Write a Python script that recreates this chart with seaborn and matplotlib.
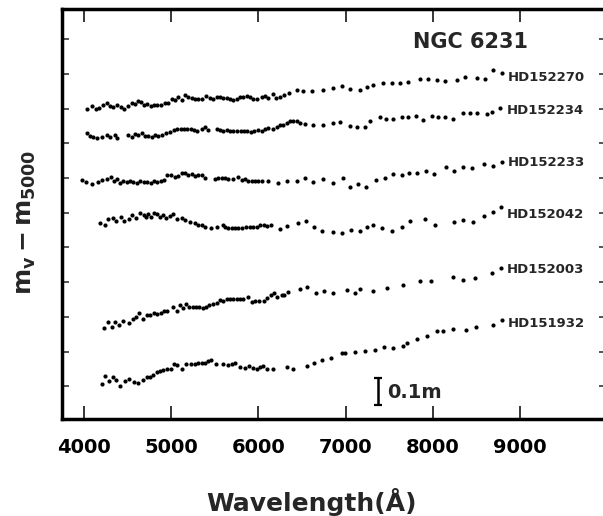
import numpy as np
import pandas as pd
import matplotlib
matplotlib.use("Agg")
import matplotlib.pyplot as plt
import seaborn as sns

# ---------------- data ----------------
stars = ["HD152270", "HD152234", "HD152233", "HD152042", "HD152003", "HD151932"]

wl_152270 = [4040, 4096, 4138, 4176, 4214, 4260, 4299, 4337, 4383, 4421,
             4463, 4509, 4547, 4585, 4623, 4654, 4688, 4727, 4765, 4803,
             4841, 4880, 4929, 4968, 5006, 5044, 5082, 5120, 5159, 5197,
             5235, 5273, 5312, 5350, 5400, 5445, 5484, 5522, 5560, 5598,
             5637, 5675, 5713, 5751, 5790, 5828, 5866, 5904, 5942, 5988,
             6038, 6076, 6115, 6172, 6202, 6248, 6294, 6348, 6439, 6516,
             6612, 6745, 6860, 6956, 7051, 7166, 7243, 7319, 7434, 7529,
             7625, 7720, 7854, 7950, 8045, 8141, 8275, 8370, 8504, 8600,
             8695, 8791]
mag_152270 = [1.125, 1.136, 1.125, 1.129, 1.137, 1.147, 1.135, 1.132, 1.137, 1.130,
              1.125, 1.135, 1.144, 1.142, 1.154, 1.150, 1.140, 1.142, 1.135, 1.140,
              1.137, 1.140, 1.144, 1.147, 1.161, 1.156, 1.166, 1.156, 1.176, 1.168,
              1.164, 1.161, 1.159, 1.161, 1.171, 1.164, 1.161, 1.166, 1.166, 1.164,
              1.164, 1.161, 1.156, 1.161, 1.166, 1.166, 1.171, 1.166, 1.159, 1.161,
              1.168, 1.172, 1.165, 1.178, 1.164, 1.168, 1.173, 1.180, 1.192, 1.190,
              1.190, 1.192, 1.200, 1.207, 1.195, 1.192, 1.202, 1.210, 1.216, 1.216,
              1.219, 1.222, 1.231, 1.231, 1.228, 1.226, 1.228, 1.238, 1.234, 1.231,
              1.264, 1.255]

wl_152234 = [4031, 4069, 4107, 4153, 4203, 4260, 4299, 4356, 4383, 4509,
             4547, 4585, 4623, 4662, 4700, 4738, 4776, 4815, 4853, 4891,
             4941, 4987, 5033, 5071, 5109, 5147, 5185, 5224, 5262, 5300,
             5350, 5388, 5419, 5522, 5560, 5598, 5637, 5675, 5713, 5751,
             5797, 5835, 5874, 5912, 5950, 6000, 6038, 6076, 6115, 6172,
             6210, 6248, 6287, 6325, 6363, 6401, 6439, 6478, 6535, 6631,
             6745, 6860, 6937, 7051, 7128, 7223, 7281, 7396, 7464, 7548,
             7644, 7720, 7808, 7893, 7988, 8065, 8141, 8237, 8344, 8428,
             8504, 8619, 8676, 8772]
mag_152234 = [1.036, 1.027, 1.022, 1.020, 1.024, 1.029, 1.024, 1.032, 1.020, 1.030,
              1.024, 1.034, 1.029, 1.036, 1.027, 1.027, 1.024, 1.029, 1.027, 1.032,
              1.039, 1.041, 1.048, 1.051, 1.053, 1.053, 1.053, 1.051, 1.048, 1.046,
              1.053, 1.058, 1.048, 1.051, 1.048, 1.046, 1.048, 1.046, 1.043, 1.046,
              1.043, 1.043, 1.046, 1.041, 1.043, 1.048, 1.046, 1.053, 1.056, 1.051,
              1.060, 1.065, 1.067, 1.075, 1.079, 1.079, 1.079, 1.075, 1.070, 1.067,
              1.067, 1.072, 1.078, 1.063, 1.058, 1.058, 1.082, 1.094, 1.087, 1.087,
              1.094, 1.096, 1.099, 1.084, 1.099, 1.096, 1.096, 1.089, 1.111, 1.111,
              1.108, 1.106, 1.114, 1.126]

wl_152233 = [3974, 4023, 4088, 4165, 4203, 4260, 4306, 4344, 4375, 4413,
             4452, 4490, 4528, 4566, 4604, 4643, 4688, 4727, 4765, 4803,
             4841, 4880, 4918, 4956, 4994, 5044, 5082, 5120, 5159, 5197,
             5235, 5273, 5312, 5350, 5388, 5503, 5541, 5579, 5617, 5656,
             5713, 5770, 5809, 5847, 5885, 5923, 5962, 6000, 6038, 6115,
             6229, 6325, 6439, 6535, 6631, 6745, 6852, 6967, 7051, 7147,
             7235, 7350, 7453, 7548, 7644, 7732, 7824, 7923, 8015, 8152,
             8244, 8344, 8447, 8588, 8695, 8791]
mag_152233 = [0.868, 0.862, 0.854, 0.862, 0.868, 0.871, 0.880, 0.866, 0.873, 0.859,
              0.866, 0.861, 0.863, 0.861, 0.859, 0.863, 0.861, 0.861, 0.859, 0.863,
              0.861, 0.866, 0.868, 0.885, 0.887, 0.880, 0.883, 0.892, 0.895, 0.885,
              0.890, 0.883, 0.885, 0.887, 0.874, 0.873, 0.875, 0.877, 0.875, 0.873,
              0.873, 0.880, 0.868, 0.871, 0.866, 0.863, 0.863, 0.863, 0.863, 0.866,
              0.859, 0.863, 0.866, 0.875, 0.861, 0.873, 0.856, 0.874, 0.842, 0.854,
              0.842, 0.868, 0.877, 0.889, 0.886, 0.895, 0.892, 0.902, 0.890, 0.916,
              0.902, 0.916, 0.911, 0.926, 0.919, 0.934]

wl_152042 = [4184, 4241, 4279, 4329, 4367, 4421, 4459, 4520, 4547, 4597,
             4643, 4688, 4711, 4738, 4765, 4803, 4841, 4872, 4903, 4941,
             4987, 5025, 5063, 5120, 5159, 5216, 5273, 5312, 5350, 5388,
             5453, 5522, 5591, 5617, 5656, 5694, 5732, 5770, 5809, 5858,
             5904, 5942, 5981, 6019, 6065, 6103, 6141, 6248, 6332, 6459,
             6546, 6638, 6726, 6860, 6956, 7059, 7166, 7250, 7319, 7415,
             7529, 7644, 7740, 7912, 8026, 8244, 8351, 8458, 8588, 8695,
             8779]
mag_152042 = [0.712, 0.706, 0.727, 0.730, 0.722, 0.734, 0.719, 0.727, 0.741, 0.731,
              0.748, 0.743, 0.734, 0.746, 0.736, 0.751, 0.746, 0.734, 0.743, 0.731,
              0.738, 0.746, 0.727, 0.731, 0.724, 0.717, 0.712, 0.707, 0.705, 0.700,
              0.694, 0.698, 0.705, 0.700, 0.695, 0.695, 0.695, 0.695, 0.695, 0.698,
              0.700, 0.698, 0.700, 0.705, 0.705, 0.703, 0.705, 0.693, 0.703, 0.714,
              0.719, 0.698, 0.686, 0.681, 0.676, 0.688, 0.686, 0.698, 0.706, 0.694,
              0.684, 0.698, 0.722, 0.727, 0.707, 0.717, 0.724, 0.718, 0.738, 0.754,
              0.772]

wl_152003 = [4233, 4279, 4318, 4356, 4405, 4452, 4520, 4558, 4597, 4635,
             4681, 4719, 4757, 4803, 4841, 4880, 4918, 4956, 5025, 5063,
             5101, 5132, 5170, 5208, 5247, 5285, 5323, 5361, 5400, 5438,
             5476, 5522, 5560, 5591, 5637, 5675, 5713, 5751, 5790, 5828,
             5877, 5923, 5962, 6011, 6065, 6103, 6149, 6179, 6218, 6267,
             6294, 6344, 6478, 6554, 6661, 6757, 6860, 7013, 7109, 7166,
             7311, 7472, 7655, 7854, 7977, 8237, 8351, 8485, 8676, 8779]
mag_152003 = [0.336, 0.357, 0.340, 0.357, 0.347, 0.361, 0.354, 0.366, 0.374, 0.388,
              0.369, 0.383, 0.381, 0.390, 0.386, 0.390, 0.398, 0.398, 0.412, 0.398,
              0.417, 0.407, 0.422, 0.410, 0.412, 0.412, 0.410, 0.407, 0.412, 0.419,
              0.422, 0.426, 0.436, 0.434, 0.438, 0.441, 0.441, 0.441, 0.438, 0.438,
              0.446, 0.429, 0.434, 0.431, 0.434, 0.443, 0.453, 0.462, 0.448, 0.453,
              0.455, 0.465, 0.474, 0.484, 0.460, 0.470, 0.462, 0.472, 0.460, 0.474,
              0.470, 0.478, 0.490, 0.506, 0.506, 0.520, 0.508, 0.514, 0.534, 0.550]

wl_151932 = [4203, 4241, 4291, 4329, 4367, 4413, 4470, 4520, 4574, 4623,
             4673, 4719, 4757, 4795, 4834, 4872, 4910, 4948, 4998, 5033,
             5071, 5120, 5170, 5224, 5273, 5312, 5350, 5388, 5419, 5453,
             5514, 5591, 5656, 5694, 5732, 5790, 5847, 5897, 5935, 5981,
             6019, 6057, 6095, 6172, 6325, 6401, 6554, 6638, 6726, 6829,
             6956, 6994, 7109, 7223, 7338, 7441, 7541, 7655, 7709, 7824,
             7931, 8053, 8114, 8229, 8382, 8497, 8688, 8791]
mag_151932 = [0.133, 0.162, 0.145, 0.160, 0.148, 0.126, 0.143, 0.153, 0.141, 0.136,
              0.148, 0.160, 0.160, 0.167, 0.177, 0.181, 0.184, 0.189, 0.189, 0.205,
              0.201, 0.189, 0.205, 0.205, 0.205, 0.208, 0.210, 0.210, 0.215, 0.220,
              0.205, 0.205, 0.201, 0.205, 0.208, 0.193, 0.191, 0.198, 0.191, 0.189,
              0.193, 0.198, 0.189, 0.189, 0.193, 0.189, 0.198, 0.208, 0.220, 0.227,
              0.244, 0.244, 0.250, 0.253, 0.256, 0.265, 0.262, 0.270, 0.280, 0.297,
              0.306, 0.325, 0.325, 0.330, 0.328, 0.337, 0.346, 0.364]

x_ticks = [4000, 5000, 6000, 7000, 8000, 9000]
x_tick_labels = ["4000", "5000", "6000", "7000", "8000", "9000"]
title_text = "NGC 6231"
scale_text = "0.1m"
scale_mag = 0.1

wl_series = [wl_152270, wl_152234, wl_152233, wl_152042, wl_152003, wl_151932]
mag_series = [mag_152270, mag_152234, mag_152233, mag_152042, mag_152003, mag_151932]

# ---------------- figure ----------------
sns.set_theme(style="ticks")
plt.rcParams["font.family"] = ["DejaVu Sans"]

frames = [pd.DataFrame({"star": s, "wavelength": w, "mag": m})
          for s, w, m in zip(stars, wl_series, mag_series)]
df = pd.concat(frames, ignore_index=True)

W, H = 603, 516
fig = plt.figure(figsize=(W / 100, H / 100), dpi=100)
fig.patch.set_facecolor("white")
ax = fig.add_axes([62 / W, (H - 419) / H, 544 / W, 410 / H])
ax.set_facecolor("white")

sns.scatterplot(data=df, x="wavelength", y="mag", color="black", s=9,
                linewidth=0, legend=False, ax=ax)

ax.set_xlim(3748, 9986)
ax.set_ylim(0.0072, 1.4841)

ax.set_xticks(x_ticks)
ax.set_xticklabels(x_tick_labels, fontsize=14, fontweight="bold")
ax.set_yticks(np.arange(1, 12) * 0.125)
ax.set_yticklabels([])

ax.tick_params(axis="x", which="major", direction="in", length=9.5, width=1.1,
               top=True, bottom=True, pad=14, colors="black")
ax.tick_params(axis="y", which="major", direction="in", length=5, width=1.1,
               left=True, right=True, labelleft=False)
ax.minorticks_off()
for sp in ax.spines.values():
    sp.set_linewidth(2.5)
    sp.set_color("black")
    sp.set_visible(True)

ax.set_xlabel("Wavelength(Å)", fontsize=18, fontweight="bold")
ax.xaxis.set_label_coords(0.458, -0.168)
ax.set_ylabel(r"$\mathregular{m_v - m_{5000}}$", fontsize=18, fontweight="bold")
ax.yaxis.set_label_coords(-0.045, 0.48)

# star labels beside the red end of each spectrum
label_dy = [-3.2, -1.2, -0.9, -5.3, -1.2, -2.2]
for s, w, m, dy in zip(stars, wl_series, mag_series, label_dy):
    ax.annotate(s, xy=(w[-1], m[-1]), xytext=(4.5, dy), textcoords="offset points",
                fontsize=9.5, fontweight="bold", ha="left", va="center")

ax.text(0.645, 0.92, title_text, transform=ax.transAxes, fontsize=15,
        fontweight="bold", ha="left", va="center")

# 0.1 mag scale bar
ax.errorbar([7366], [0.106], yerr=[scale_mag / 2], fmt="none", ecolor="black",
            elinewidth=1.8, capsize=3.2, capthick=1.6)
ax.text(7480, 0.104, scale_text, fontsize=14, fontweight="bold",
        ha="left", va="center")

fig.savefig("out.png", dpi=100, facecolor="white")
